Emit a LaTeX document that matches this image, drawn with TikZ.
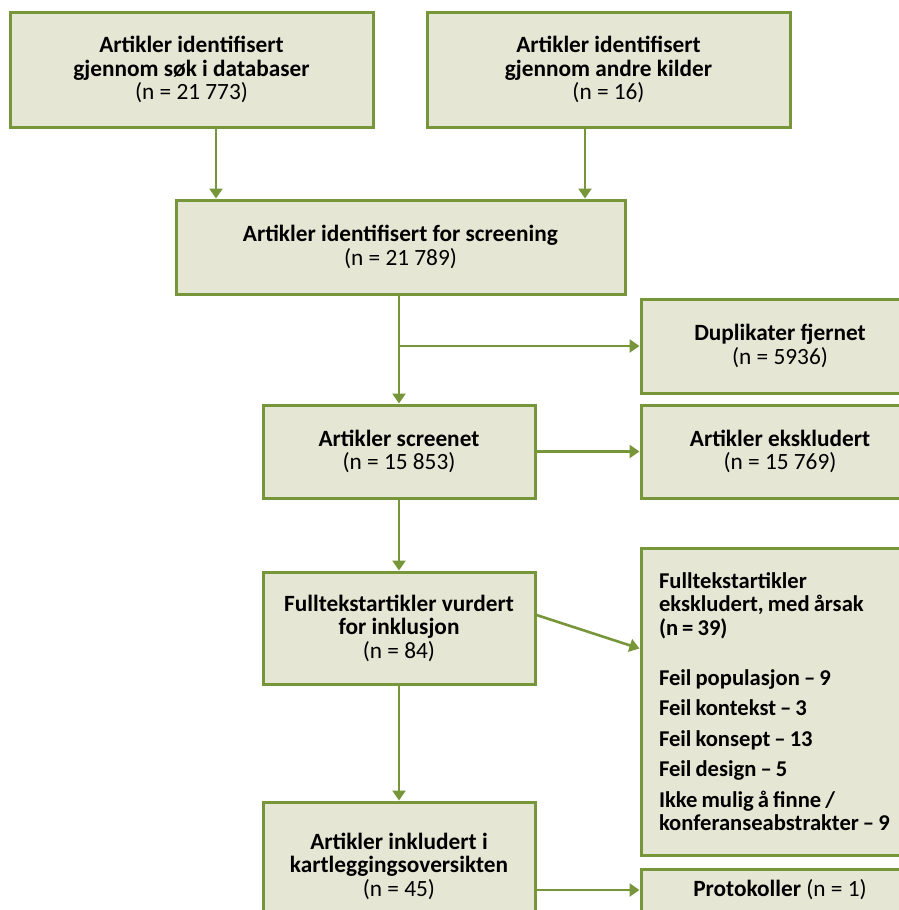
\documentclass[tikz,border=0pt]{standalone}
\usepackage{fontspec}
\setmainfont{Carlito}
\usetikzlibrary{arrows.meta}
\definecolor{grn}{HTML}{77963A}
\definecolor{olv}{HTML}{E5E6D3}
\begin{document}
\begin{tikzpicture}[x=1pt,y=-1pt]
\tikzset{
	box/.style={rectangle, draw=grn, fill=olv, line width=3pt, inner sep=0pt, align=center,
		font=\fontsize{23.3}{23.5}\selectfont},
	arr/.style={draw=grn, line width=2.6pt, -{Triangle[width=13pt,length=10pt]}}
}
\useasboundingbox (0,0) rectangle (899,910);
\clip (0,0) rectangle (899,910);

% identifisering
\node[box, minimum width=363, minimum height=115] (db) at(191.5,69.5)
	{\textbf{Artikler identifisert}\\\textbf{gjennom søk i databaser}\\(n = 21 773)};
\node[box, minimum width=363, minimum height=115] (andre) at(608.5,69.5)
	{\textbf{Artikler identifisert}\\\textbf{gjennom andre kilder}\\(n = 16)};
\node[box, minimum width=449, minimum height=94] (scr) at(400.5,247)
	{\textbf{Artikler identifisert for screening}\\(n = 21 789)};

% screening
\node[box, minimum width=278, minimum height=94] (dup) at(780,346)
	{\textbf{Duplikater fjernet}\\(n = 5936)};
\node[box, minimum width=272, minimum height=93] (scrn) at(399,451.5)
	{\textbf{Artikler screenet}\\(n = 15 853)};
\node[box, minimum width=278, minimum height=93] (eks) at(780,451.5)
	{\textbf{Artikler ekskludert}\\(n = 15 769)};

% fulltekst
\node[box, align=left, inner xsep=18pt, text width=242pt, minimum height=307,
	font=\fontsize{22.6}{23.5}\selectfont\bfseries] (arsak) at(780,701.5)
	{\spaceskip=0.18em\relax
	Fulltekstartikler\\ekskludert, med årsak\\(n = 39)\\[26.5pt]
	Feil populasjon – 9\\[7pt]
	Feil kontekst – 3\\[7pt]
	Feil konsept – 13\\[7pt]
	Feil design – 5\\[7pt]
	Ikke mulig å finne /\\konferanseabstrakter – 9};
\node[box, minimum width=272, minimum height=112] (full) at(399,628)
	{\textbf{Fulltekstartikler vurdert}\\\textbf{for inklusjon}\\(n = 84)};

% inkludert
\node[box, minimum width=272, minimum height=128] (inkl) at(399,866)
	{\textbf{Artikler inkludert i}\\\textbf{kartleggingsoversikten}\\(n = 45)};
\node[box, minimum width=278, minimum height=42] (prot) at(780,890)
	{\textbf{Protokoller} (n = 1)};

% piler
\coordinate (gren) at (scrn.north |- dup.west);
\draw[arr] ([xshift=24.5pt]db.south) -- ([xshift=24.5pt]db.south |- scr.north);
\draw[arr] ([xshift=-23.5pt]andre.south) -- ([xshift=-23.5pt]andre.south |- scr.north);
\draw[arr] (scr.south -| scrn.north) -- (scrn.north);
\draw[arr] (gren) -- (dup.west);
\draw[arr] (scrn.east) -- (eks.west);
\draw[arr] (scrn.south) -- (full.north);
\draw[arr] ([yshift=13pt]full.east) -- ([yshift=53pt]arsak.west);
\draw[arr] (full.south) -- (inkl.north);
\draw[arr] (inkl.east |- prot.west) -- (prot.west);

\end{tikzpicture}
\end{document}
